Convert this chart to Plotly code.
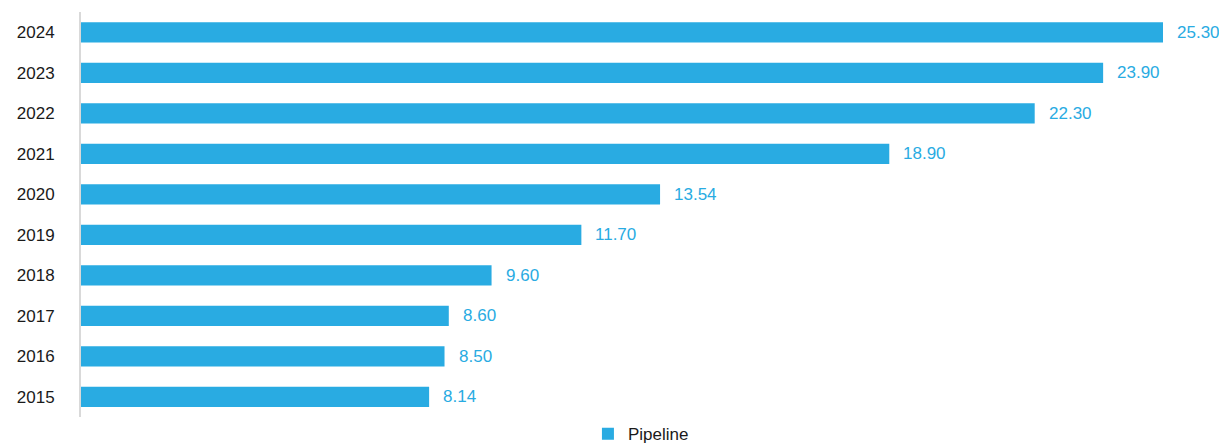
import plotly.graph_objects as go

years = ["2015", "2016", "2017", "2018", "2019", "2020", "2021", "2022", "2023", "2024"]
pipeline = [8.14, 8.50, 8.60, 9.60, 11.70, 13.54, 18.90, 22.30, 23.90, 25.30]
series_name = "Pipeline"
color = "#29ABE2"
font_family = "Liberation Sans, Arial, sans-serif"

fig = go.Figure()
fig.add_trace(go.Bar(
    x=pipeline, y=years, orientation="h", name=series_name,
    marker=dict(color=color, line=dict(width=0)), width=0.5,
    showlegend=True,
))
for i, v in enumerate(pipeline):
    fig.add_annotation(x=v, y=i, text=f"{v:.2f}", showarrow=False,
                       xanchor="left", xshift=12,
                       font=dict(family=font_family, size=17, color=color))

fig.update_layout(
    width=1219, height=436,
    paper_bgcolor="white", plot_bgcolor="white",
    margin=dict(l=73, r=64, t=4, b=27, autoexpand=False),
    font=dict(family=font_family, size=17, color="#1a1a1a"),
    legend=dict(orientation="h", x=0.5175, xanchor="center", y=0.002, yanchor="top",
                font=dict(size=17, color="#1a1a1a"), itemwidth=30),
    xaxis=dict(range=[0, 25.3], showgrid=False, showticklabels=False, zeroline=False,
               showline=False, automargin=False),
    yaxis=dict(type="category", showline=True, linecolor="#d9d9d9", linewidth=2, ticks="",
               ticklabelstandoff=21, tickfont=dict(size=17, color="#1a1a1a"), automargin=False),
)
fig.write_html("out.html")
